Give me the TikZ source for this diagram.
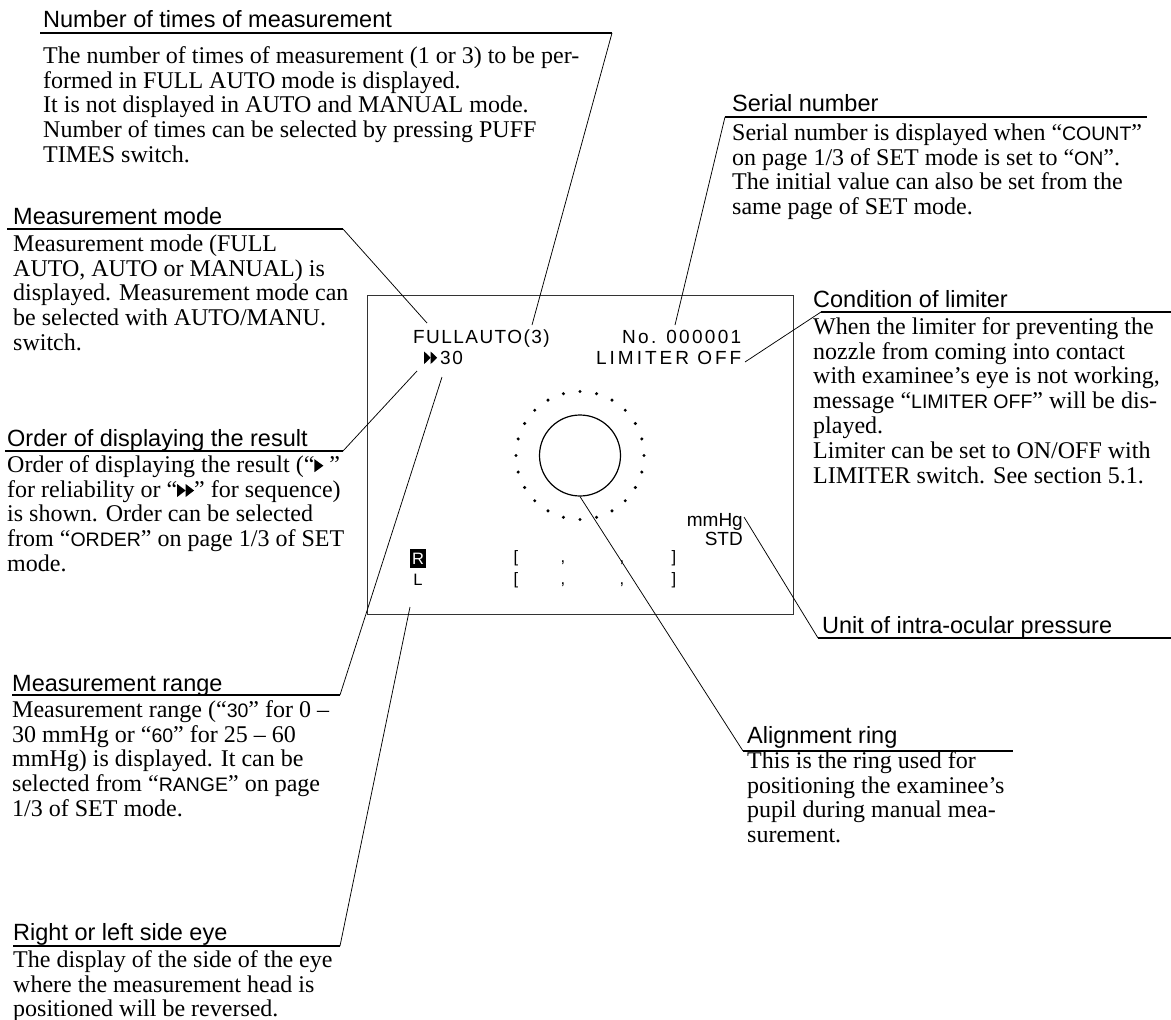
\documentclass[tikz,border=0pt]{standalone}
\usepackage{fontspec}
\setmainfont{Liberation Serif}
\setsansfont{Liberation Sans}
\newcommand\fs{\rule{0pt}{18pt}}
\newcommand\qs[1]{{\sffamily\fontsize{19.5}{24.8}\selectfont #1}}
\newcommand\tri[2]{\tikz[baseline=0pt,x=1pt,y=1pt]\fill (0,0) -- (#1,#2/2) -- (0,#2) -- cycle;}
\begin{document}
\begin{tikzpicture}[x=1pt,y=-1pt,
  ttl/.style={anchor=base west,inner sep=0pt,font=\sffamily\fontsize{23.5}{26}\selectfont},
  body/.style={anchor=north west,inner sep=0pt,align=left,font=\fontsize{24}{24.8}\selectfont},
  uline/.style={line width=1.4pt},
  leader/.style={line width=0.75pt},
  disp/.style={anchor=base west,inner sep=0pt,font=\sffamily\fontsize{19}{19}\selectfont},
  small/.style={anchor=base,inner sep=0pt,font=\sffamily\fontsize{16.5}{16.5}\selectfont}
]
\useasboundingbox (0,0) rectangle (1171,1020);

% display box
\node[draw=black!80,line width=1pt,minimum width=426pt,minimum height=319pt,inner sep=0pt] (screen) at (580,454.5) {};

% display texts
\node[disp,font={\sffamily\fontsize{19}{19}\selectfont\addfontfeatures{LetterSpace=7.6}}] (fa) at (413,343) {FULLAUTO(3)};
\node[disp,font={\sffamily\fontsize{19}{19}\selectfont\addfontfeatures{LetterSpace=12}}] (no) at (622,343) {No. 000001};
\node[disp,font={\sffamily\fontsize{19}{19}\selectfont\addfontfeatures{LetterSpace=15.7}}] (lim) at (596,364) {LIMITER OFF};
\node[disp] (ord) at (424,364) {\tri{6.5}{12.5}\tri{6.5}{12.5}};
\node[disp,font={\sffamily\fontsize{19}{19}\selectfont\addfontfeatures{LetterSpace=8}}] (rng) at (440,364) {30};
\node[disp,anchor=base east] (mm) at (743,526) {mmHg};
\node[disp,anchor=base east] (std) at (743,545) {STD};
\node[fill=black,text=white,font=\sffamily\fontsize{16.5}{16.5}\selectfont,minimum width=16pt,minimum height=19pt,inner sep=0pt] (rb) at (418,558.5) {R};
\node[small] (lb) at (418,585) {L};
\foreach \yy/\nm in {562.5/r,584.5/l}{
  \node[small] (\nm o) at (516,\yy) {[};
  \node[small] (\nm c1) at (563,\yy) {,};
  \node[small] (\nm c2) at (622,\yy) {,};
  \node[small] (\nm c) at (674,\yy) {]};
}
% alignment ring
\node[circle,draw,line width=1.2pt,minimum size=81pt,inner sep=0pt] (ring) at (580,455.5) {};
\foreach \a in {0,15,...,345}{\fill (ring.center) ++(\a:64pt) circle[radius=1.7pt];}

% leader targets
\coordinate (pFA) at (532,325);
\coordinate (pMode) at (427,323);
\coordinate (pOrd) at (417,371);
\coordinate (pRng) at (442,377);
\coordinate (pRL) at (410,607);
\coordinate (pNo) at (675,325);
\coordinate (pLim) at (745,362);
\coordinate (pUnit) at (744,517);

% 1 Number of times of measurement
\node[ttl] (t1) at (43,27) {Number of times of measurement};
\coordinate (u1a) at (40,33); \coordinate (u1b) at (612,33);
\draw[uline] (u1a) -- (u1b);
\draw[leader] (u1b) -- (pFA);
\node[body] (b1) at (43,45) {\fs The number of times of measurement (1 or 3) to be per-\\formed in FULL AUTO mode is displayed.\\It is not displayed in AUTO and MANUAL mode.\\Number of times can be selected by pressing PUFF\\TIMES switch.};

% 2 Measurement mode
\node[ttl] (t2) at (13,224) {Measurement mode};
\coordinate (u2a) at (7,229); \coordinate (u2b) at (343,229);
\draw[uline] (u2a) -- (u2b);
\draw[leader] (u2b) -- (pMode);
\node[body] (b2) at (13,233) {\fs Measurement mode (FULL\\AUTO, AUTO or MANUAL) is\\displayed. Measurement mode can\\be selected with AUTO/MANU.\\switch.};

% 3 Order
\node[ttl] (t3) at (7,446) {Order of displaying the result};
\coordinate (u3a) at (5,451); \coordinate (u3b) at (343,451);
\draw[uline] (u3a) -- (u3b);
\draw[leader] (u3b) -- (pOrd);
\node[body] (b3) at (7,454) {\fs Order of displaying the result (“\tri{9}{13} ”\\for reliability or “\tri{8.5}{13}\tri{8.5}{13}” for sequence)\\is shown. Order can be selected\\from “\qs{ORDER}” on page 1/3 of SET\\mode.};

% 4 Range
\node[ttl] (t4) at (12,691) {Measurement range};
\coordinate (u4a) at (12,695); \coordinate (u4b) at (340,695);
\draw[uline] (u4a) -- (u4b);
\draw[leader] (u4b) -- (pRng);
\node[body] (b4) at (12,699) {\fs Measurement range (“\qs{30}” for 0 –\\30 mmHg or “\qs{60}” for 25 – 60\\mmHg) is displayed. It can be\\selected from “\qs{RANGE}” on page\\1/3 of SET mode.};

% 5 Right or left
\node[ttl] (t5) at (13,940) {Right or left side eye};
\coordinate (u5a) at (13,946); \coordinate (u5b) at (340,946);
\draw[uline] (u5a) -- (u5b);
\draw[leader] (u5b) -- (pRL);
\node[body] (b5) at (13,949) {\fs The display of the side of the eye\\where the measurement head is\\positioned will be reversed.};

% 6 Serial number
\node[ttl] (t6) at (732,111) {Serial number};
\coordinate (u6a) at (725,117); \coordinate (u6b) at (1147,117);
\draw[uline] (u6a) -- (u6b);
\draw[leader] (u6a) -- (pNo);
\node[body] (b6) at (732,122) {\fs Serial number is displayed when “\qs{COUNT}”\\on page 1/3 of SET mode is set to “\qs{ON}”.\\The initial value can also be set from the\\same page of SET mode.};

% 7 Condition of limiter
\node[ttl] (t7) at (813,307) {Condition of limiter};
\coordinate (u7a) at (821,312); \coordinate (u7b) at (1171,312);
\draw[uline] (u7a) -- (u7b);
\draw[leader] (u7a) -- (pLim);
\node[body] (b7) at (813,316) {\fs When the limiter for preventing the\\nozzle from coming into contact\\with examinee’s eye is not working,\\message “\qs{LIMITER OFF}” will be dis-\\played.\\Limiter can be set to ON/OFF with\\LIMITER switch. See section 5.1.};

% 8 Unit
\node[ttl] (t8) at (822,633) {Unit of intra-ocular pressure};
\coordinate (u8a) at (818,638); \coordinate (u8b) at (1171,638);
\draw[uline] (u8a) -- (u8b);
\draw[leader] (u8a) -- (pUnit);

% 9 Alignment ring
\node[ttl] (t9) at (747,743) {Alignment ring};
\coordinate (u9a) at (743,751); \coordinate (u9b) at (1013,751);
\draw[uline] (u9a) -- (u9b);
\draw[leader] (u9a) -- (ring.south);
\node[body] (b9) at (747,750) {\fs This is the ring used for\\positioning the examinee’s\\pupil during manual mea-\\surement.};
\end{tikzpicture}
\end{document}
